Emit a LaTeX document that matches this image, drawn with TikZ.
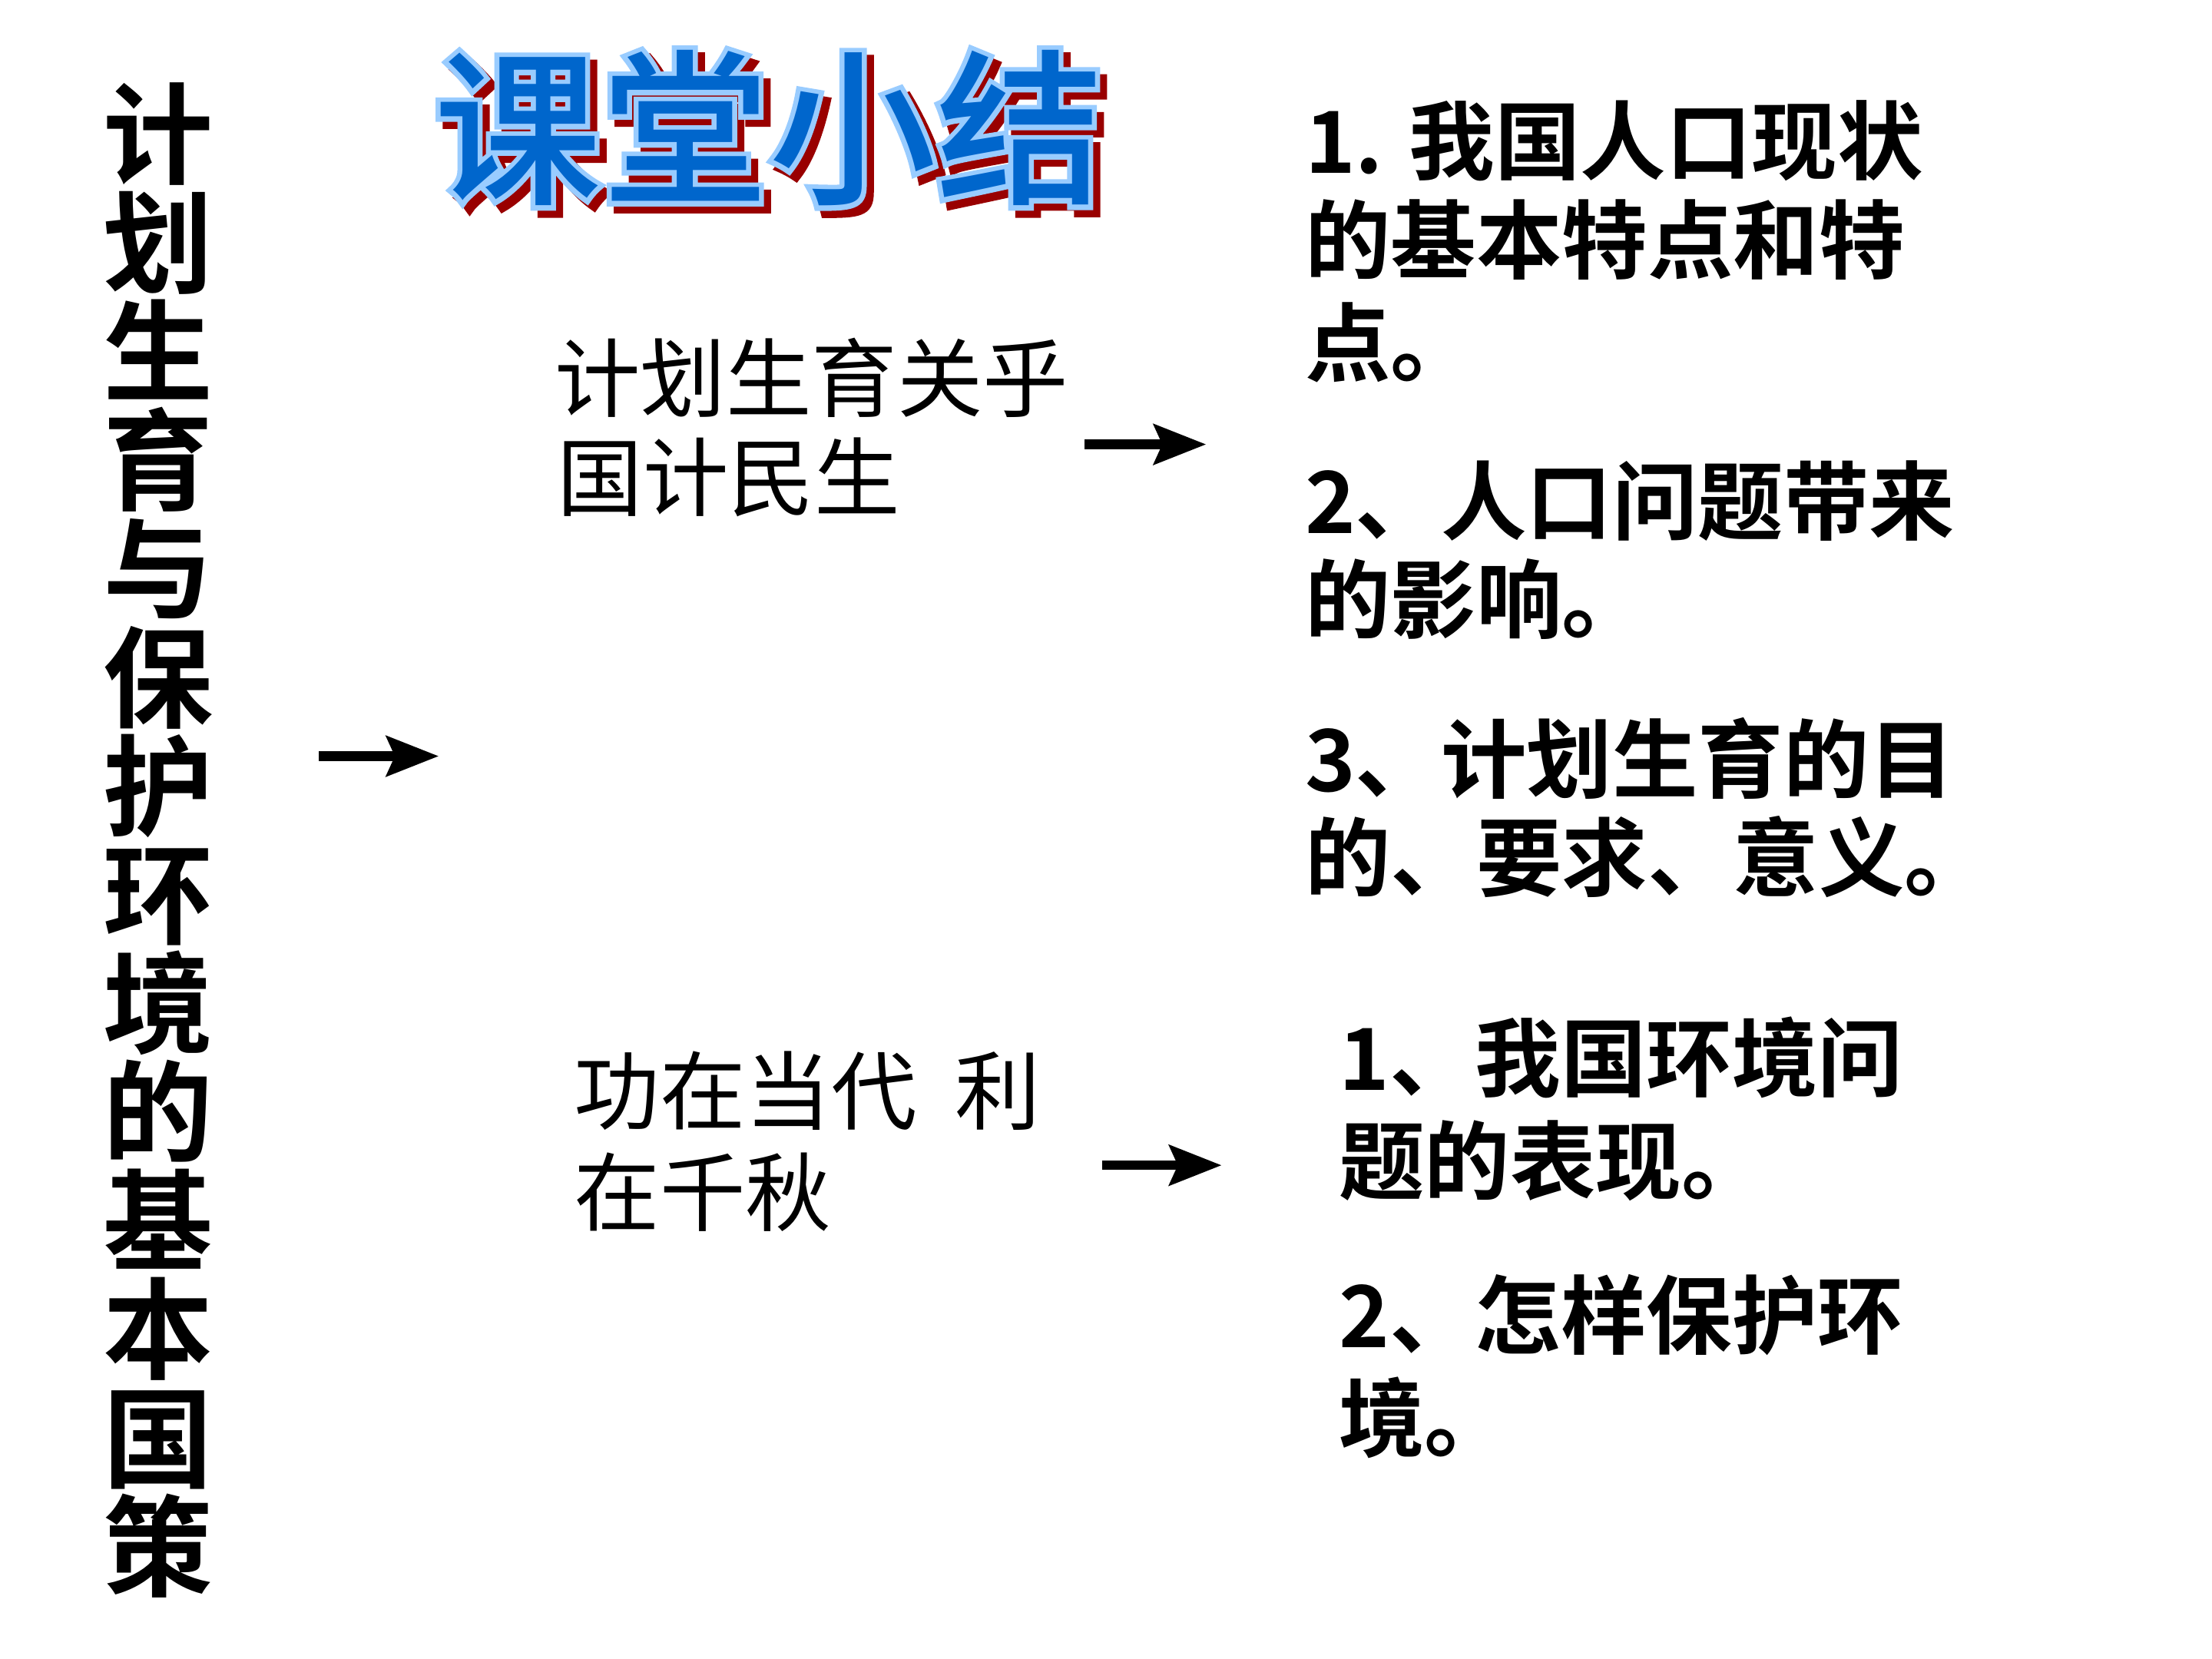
\documentclass[tikz,border=0pt]{standalone}
\usepackage{fontspec}
\newfontfamily\cjk[BoldFont={Noto Sans CJK SC Bold}]{Noto Sans CJK SC}
\newfontfamily\ttlfat[FakeBold=6]{Noto Sans CJK SC Medium}
\newfontfamily\ttlthin{Noto Sans CJK SC Medium}
\usetikzlibrary{arrows.meta,calc}
\definecolor{ttlblue}{RGB}{0,102,204}
\definecolor{ttledge}{RGB}{153,204,255}
\definecolor{ttlshade}{RGB}{153,0,0}
\tikzset{
  >={Stealth[length=6.8pt,width=5.2pt,inset=1.1pt]},
  every node/.style={inner sep=0pt},
  side/.style={anchor=base,font=\cjk\bfseries\fontsize{14.3pt}{14.3pt}\selectfont},
  ttl/.style={anchor=base,font=\ttlfat\fontsize{21.8pt}{21.8pt}\selectfont},
  ttlface/.style={anchor=base,font=\ttlthin\fontsize{21.8pt}{21.8pt}\selectfont},
  mid/.style={anchor=base west,font=\cjk\fontsize{11.15pt}{13pt}\selectfont},
  pt/.style={anchor=base west,font=\cjk\bfseries\fontsize{11.15pt}{13pt}\selectfont},
  arr/.style={->,line width=1.25pt},
}

\begin{document}
\begin{tikzpicture}[x=0.18367pt,y=-0.18367pt]
  % page: 1568 x 1176, y grows downward
  \path[fill=white,use as bounding box] (0,0) rectangle (1568,1176);

  % vertical heading, pitch 77
  \foreach \c [count=\i from 0] in {计,划,生,育,与,保,护,环,境,的,基,本,国,策}
    \node[side] (v\i) at (112,124.6+77*\i) {\c};

  % title: shadow, edge, face
  \node[ttl,text=ttlshade] (ttlsh) at (550,141) {课堂小结};
  \node[ttl,text=ttledge] (ttled) at (545,136) {课堂小结};
  \node[ttlface,text=ttlblue] (ttl) at (545,136) {课堂小结};

  % middle column
  \node[mid] (m1a) at (392,291) {计划生育关乎};
  \node[mid] (m1b) at (394,361) {国计民生};
  \node[mid] (m2a) at (406,796) {功在当代\ \ 利};
  \node[mid] (m2b) at (406,868) {在千秋};

  % right column, first group
  \node[pt] (p1a) at (924,123) {1. 我国人口现状};
  \node[pt] (p1b) at (924,193) {的基本特点和特};
  \node[pt] (p1c) at (924,266) {点。};
  \node[pt] (p2a) at (924,378) {2、人口问题带来};
  \node[pt] (p2b) at (924,448) {的影响。};
  \node[pt] (p3a) at (924,561) {3、计划生育的目};
  \node[pt] (p3b) at (924,631) {的、要求、意义。};

  % right column, second group
  \node[pt] (q1a) at (948,773) {1、我国环境问};
  \node[pt] (q1b) at (948,846) {题的表现。};
  \node[pt] (q2a) at (948,955) {2、怎样保护环};
  \node[pt] (q2b) at (948,1028) {境。};

  % arrows
  \coordinate (a1s) at (226,536);
  \coordinate (a1e) at (311,536);
  \coordinate (a2s) at (769,315);
  \coordinate (a2e) at (855,315);
  \coordinate (a3s) at (781,826);
  \coordinate (a3e) at (866,826);
  \draw[arr] (a1s) -- (a1e);
  \draw[arr] (a2s) -- (a2e);
  \draw[arr] (a3s) -- (a3e);
\end{tikzpicture}
\end{document}
